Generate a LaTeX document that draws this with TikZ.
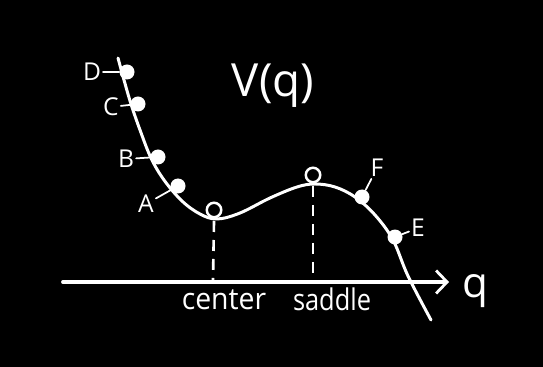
\documentclass[tikz,border=0pt]{standalone}
\usepackage{fontspec}
\setmainfont{Open Sans}
\usetikzlibrary{arrows.meta}

\begin{document}
\begin{tikzpicture}[x=0.02cm, y=-0.02cm, line cap=round,
  >={Straight Barb[length=0.22cm, width=0.46cm, line width=1.6pt]},
  dot/.style={circle, fill=white, inner sep=0pt, minimum size=0.3cm},
  ring/.style={circle, draw=white, line width=1.4pt, inner sep=0pt, minimum size=0.29cm},
  lab/.style={text=white, font=\fontsize{14}{14}\selectfont, inner sep=1pt},
  word/.style={text=white, font=\fontsize{17}{17}\selectfont, inner sep=0pt},
  tick/.style={white, line width=1pt},
  guide/.style={white, line width=1.5pt, dash pattern=on 0.22cm off 0.16cm, line cap=butt}]
  % Background
  \fill[black] (0,0) rectangle (543,367);
  \useasboundingbox (0,0) rectangle (543,367);
  % Points
  \coordinate (O) at (63,282);
  \coordinate (Q) at (449,282);
  \coordinate (Cmin) at (214,221);
  \coordinate (Cfoot) at (213,280);
  \coordinate (Smax) at (313,186);
  \coordinate (Sfoot) at (313,280);
  % 1. Dashed guides
  \draw[guide] (Cmin) -- (Cfoot);
  \draw[guide] (Smax) -- (Sfoot);
  % 2. Axis
  \draw[->, white, line width=2.2pt] (O) -- (Q);
  \node[word, font=\fontsize{24}{24}\selectfont, anchor=west] (q) at (462,291) {q};
  % 3. Potential curve
  \draw[white, line width=1.7pt] plot[smooth, tension=0.6] coordinates {
    (118,58) (124,80) (131,104) (140,130) (151,158) (164,180) (182,201)
    (200,214) (217,219) (240,213) (270,198) (297,187) (315,184) (335,187)
    (355,197) (375,215) (393,240) (408,276) (431,320)};
  \node[word, font=\fontsize{26}{26}\selectfont] (V) at (273,86) {V(q)};
  % 4. Equilibria
  \node[ring] (center) at (214,210) {};
  \node[ring] (saddle) at (313,175) {};
  \node[word, xscale=0.95] (centerlab) at (224,300) {center};
  \node[word, xscale=0.85] (saddlelab) at (332,299) {saddle};
  % 5. Starting points
  \node[dot] (dD) at (127,72) {};
  \node[dot] (dC) at (138,104) {};
  \node[dot] (dB) at (158,157) {};
  \node[dot] (dA) at (178,186) {};
  \node[dot] (dF) at (362,197) {};
  \node[dot] (dE) at (395,237) {};
  \node[lab] (lD) at (92,72) {D};
  \node[lab] (lC) at (111,107) {C};
  \node[lab] (lB) at (126,159) {B};
  \node[lab] (lA) at (146,204) {A};
  \node[lab] (lF) at (377,168) {F};
  \node[lab] (lE) at (418,228) {E};
  \draw[tick] (lD) -- (dD);
  \draw[tick] (lC) -- (dC);
  \draw[tick] (lB) -- (dB);
  \draw[tick] (lA) -- (dA);
  \draw[tick] (lF) -- (dF);
  \draw[tick] (lE) -- (dE);
\end{tikzpicture}
\end{document}
